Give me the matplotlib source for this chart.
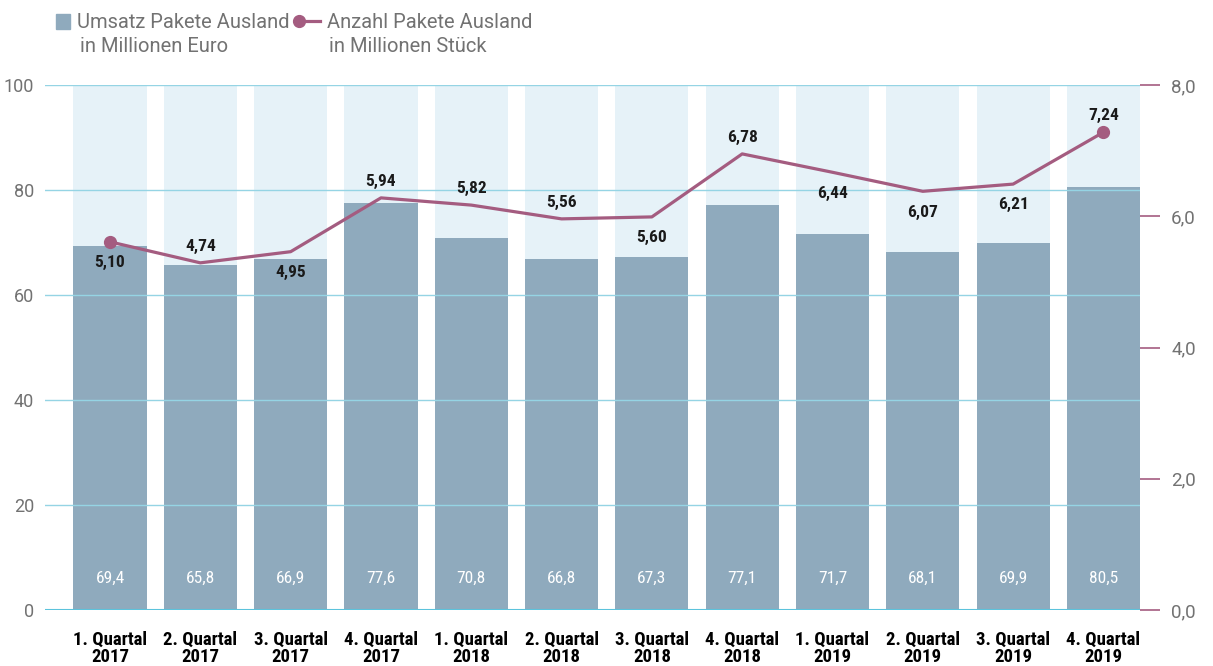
import numpy as np
import matplotlib.pyplot as plt
from matplotlib.lines import Line2D
from matplotlib.patches import Rectangle

# data
quarters = ["1. Quartal\n2017", "2. Quartal\n2017", "3. Quartal\n2017", "4. Quartal\n2017",
            "1. Quartal\n2018", "2. Quartal\n2018", "3. Quartal\n2018", "4. Quartal\n2018",
            "1. Quartal\n2019", "2. Quartal\n2019", "3. Quartal\n2019", "4. Quartal\n2019"]
umsatz = [69.4, 65.8, 66.9, 77.6, 70.8, 66.8, 67.3, 77.1, 71.7, 68.1, 69.9, 80.5]
# line as drawn in the picture (right axis)
anzahl_drawn = [5.61, 5.29, 5.46, 6.28, 6.17, 5.96, 5.99, 6.95, 6.67, 6.38, 6.49, 7.28]
# values printed next to the line
anzahl_labels = ["5,10", "4,74", "4,95", "5,94", "5,82", "5,56", "5,60", "6,78", "6,44", "6,07", "6,21", "7,24"]
label_side = ["below", "above", "below", "above", "above", "above",
              "below", "above", "below", "below", "below", "above"]

BAR = "#8faabd"
BG = "#e6f2f8"
GRID = "#95d4e4"
LINE = "#a45c80"
GREY = "#727272"
NARROW = ["Liberation Sans Narrow", "Roboto Condensed", "DejaVu Sans"]

plt.rcParams['font.family'] = ["Roboto", "DejaVu Sans"]

fig = plt.figure(figsize=(12.13, 6.66), dpi=100)
ax = fig.add_axes([45 / 1213, 56 / 666, 1095 / 1213, 525 / 666])
ax2 = ax.twinx()

x = np.arange(len(umsatz))
w = 0.81

ax.bar(x, [100] * len(x), width=w, color=BG, zorder=1)
ax.bar(x, umsatz, width=w, color=BAR, zorder=2)
for v in range(20, 101, 20):
    ax.axhline(v, color=GRID, lw=1.0, zorder=3)
ax.axhline(0, color="#5cc3dc", lw=1.5, zorder=3)

for xi, v in zip(x, umsatz):
    ax.text(xi, 6, f"{v:.1f}".replace(".", ","), ha="center", va="center",
            color="white", fontsize=12.5, family=NARROW, zorder=4)

ax.set_xlim(-0.72, 11.405)
ax.set_ylim(0, 100)
ax.set_yticks(range(0, 101, 20))
ax.tick_params(axis="y", length=0, pad=8, labelsize=13, labelcolor=GREY)
ax.set_xticks(x)
ax.set_xticklabels(quarters, family=NARROW, fontweight="bold", fontsize=13.5,
                   linespacing=0.95)
ax.tick_params(axis="x", length=0, pad=15)
for s in ax.spines.values():
    s.set_visible(False)

# line on the right axis
ax2.plot(x, anzahl_drawn, color=LINE, lw=2.3, zorder=5)
ax2.plot([x[0], x[-1]], [anzahl_drawn[0], anzahl_drawn[-1]], "o", color=LINE, ms=8.5, zorder=6)
for xi, yv, lab, side in zip(x, anzahl_drawn, anzahl_labels, label_side):
    off = 12 if side == "above" else -15
    ax2.annotate(lab, (xi, yv), xytext=(0, off), textcoords="offset points",
                 ha="center", va="center", fontsize=12.5, fontweight="bold",
                 family=NARROW, color="#1a1a1a", zorder=7)
ax2.set_ylim(0, 8)
ax2.set_yticks([0, 2, 4, 6, 8])
ax2.set_yticklabels(["0,0", "2,0", "4,0", "6,0", "8,0"])
ax2.tick_params(axis="y", direction="out", length=14.5, width=1.2, color=LINE,
                pad=8, labelsize=13.5, labelcolor=GREY)
ax2.get_yticklines()[0].set_color("#d1aec3")
ax2.get_yticklines()[1].set_color("#d1aec3")
for s in ax2.spines.values():
    s.set_visible(False)

# legend drawn by hand in pixel coordinates
def px(xp, yp):
    return xp / 1213, 1 - yp / 666

fig.patches.append(Rectangle(px(56, 29), 14 / 1213, 15 / 666, color=BAR,
                             transform=fig.transFigure, figure=fig))
fig.add_artist(Line2D([px(298, 0)[0], px(320, 0)[0]], [px(0, 21)[1]] * 2,
                      color=LINE, lw=2.3, transform=fig.transFigure))
fig.add_artist(Line2D([px(299, 0)[0]], [px(0, 21)[1]], marker="o", ms=8.5,
                      color=LINE, transform=fig.transFigure))
fig.text(*px(77, 22), "Umsatz Pakete Ausland", va="center", ha="left",
         fontsize=14.5, color=GREY)
fig.text(*px(80, 47), "in Millionen Euro", va="center", ha="left",
         fontsize=14.5, color=GREY)
fig.text(*px(327, 22), "Anzahl Pakete Ausland", va="center", ha="left",
         fontsize=14.5, color=GREY)
fig.text(*px(329, 47), "in Millionen Stück", va="center", ha="left",
         fontsize=14.5, color=GREY)

fig.savefig("out.png", dpi=100)
